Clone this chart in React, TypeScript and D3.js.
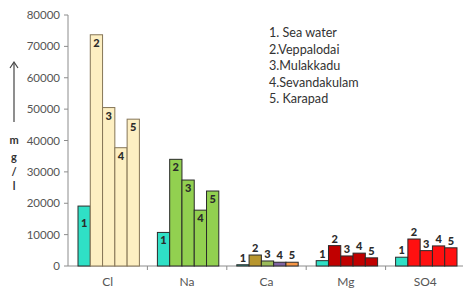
import React from "react";
import * as d3 from "d3";

// ions on x axis
const categories = ["Cl", "Na", "Ca", "Mg", "SO4"];
// sampling sites (legend order)
const sites = ["1. Sea water", "2.Veppalodai", "3.Mulakkadu", "4.Sevandakulam", "5. Karapad"];
// mg/l, one array per site, same order as categories
const seaWater = [19100, 10700, 400, 1700, 2800];
const veppalodai = [73700, 34000, 3500, 6500, 8600];
const mulakkadu = [50500, 27400, 1600, 3200, 4900];
const sevandakulam = [37700, 17800, 1200, 4100, 6400];
const karapad = [46800, 23900, 1200, 2600, 5800];
const yTicks = [0, 10000, 20000, 30000, 40000, 50000, 60000, 70000, 80000];

const series = [seaWater, veppalodai, mulakkadu, sevandakulam, karapad];

const W = 463;
const H = 293;
const FONT = "Lato, 'Open Sans', sans-serif";

// fill for a bar: first site always turquoise, the rest depend on the ion
const fillFor = (cat: string, s: number) => {
  if (s === 0) return "#2fe0c6";
  if (cat === "Cl") return "#fdefc2";
  if (cat === "Na") return "#92d050";
  if (cat === "Ca") return ["", "#b8962e", "#9bbb59", "#8064a2", "#f79646"][s];
  if (cat === "Mg") return "#c00000";
  return "#ff1010";
};
const strokeFor = (cat: string, s: number) =>
  cat === "Cl" && s > 0 ? "#857556" : "#2a2a2a";

const App = () => {
  const x0 = 68;
  const x1 = 465;
  const yBottom = 266;
  const yTop = 15;

  const x = d3.scaleBand<string>().domain(categories).range([x0, x1]);
  const xs = d3
    .scaleBand<number>()
    .domain(d3.range(series.length))
    .range([10, x.bandwidth() - 8]);
  const y = d3.scaleLinear().domain([0, 80000]).range([yBottom, yTop]);

  const bars: React.ReactNode[] = [];
  const labels: React.ReactNode[] = [];
  categories.forEach((cat, ci) => {
    series.forEach((vals, si) => {
      const v = vals[ci];
      const bx = (x(cat) as number) + (xs(si) as number);
      const by = y(v);
      const bw = xs.bandwidth();
      bars.push(
        <rect
          key={cat + si}
          x={bx}
          y={by}
          width={bw}
          height={yBottom - by}
          fill={fillFor(cat, si)}
          stroke={strokeFor(cat, si)}
          strokeWidth={1}
        />
      );
      const big = cat === "Cl" || cat === "Na";
      labels.push(
        <text
          key={"l" + cat + si}
          x={bx + bw / 2}
          y={big ? by + (si === 0 && cat === "Cl" ? 21 : 12) : by - 3}
          textAnchor="middle"
          fontFamily={FONT}
          fontWeight="900"
          fontSize={11}
          fill="#2b2b2b"
        >
          {si + 1}
        </text>
      );
    });
  });

  return (
    <svg
      width={W}
      height={H}
      style={{ position: "absolute", left: 0, top: 0, background: "#fff" }}
    >
      {/* y axis */}
      <line x1={x0} x2={x0} y1={yTop} y2={yBottom} stroke="#8c8c8c" />
      {yTicks.map((t) => (
        <g key={t}>
          <line x1={x0 - 4} x2={x0} y1={y(t)} y2={y(t)} stroke="#8c8c8c" />
          <text
            x={60}
            y={y(t) + 4}
            textAnchor="end"
            fontFamily={FONT}
            fontSize={11.5}
            fill="#555"
          >
            {t}
          </text>
        </g>
      ))}
      {/* x axis */}
      <line x1={x0} x2={x1} y1={yBottom} y2={yBottom} stroke="#8c8c8c" />
      {categories.map((c) => (
        <g key={c}>
          <line
            x1={(x(c) as number) + x.bandwidth()}
            x2={(x(c) as number) + x.bandwidth()}
            y1={yBottom}
            y2={yBottom + 4}
            stroke="#8c8c8c"
          />
          <text
            x={(x(c) as number) + x.bandwidth() / 2}
            y={286}
            textAnchor="middle"
            fontFamily={FONT}
            fontSize={12}
            fill="#555"
          >
            {c}
          </text>
        </g>
      ))}
      {bars}
      {labels}
      {/* y axis title: arrow and stacked letters */}
      <line x1={14} x2={14} y1={122} y2={63} stroke="#444" strokeWidth={1.2} />
      <path d="M10,68 L14,62 L18,68" fill="none" stroke="#444" strokeWidth={1.2} />
      {["m", "g", "/", "l"].map((ch, i) => (
        <text
          key={i}
          x={14}
          y={[144, 161, 176, 190][i]}
          textAnchor="middle"
          fontFamily={FONT}
          fontWeight="bold"
          fontSize={11}
          fill="#333"
        >
          {ch}
        </text>
      ))}
      {/* legend */}
      {sites.map((s, i) => (
        <text
          key={s}
          x={269}
          y={37 + i * 16.5}
          fontFamily={FONT}
          fontSize={12.6}
          fill="#333"
        >
          {s}
        </text>
      ))}
    </svg>
  );
};

export default App;
